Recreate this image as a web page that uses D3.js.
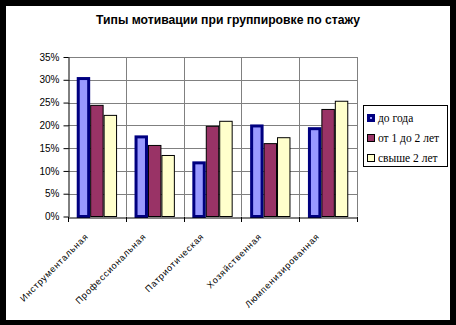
<!DOCTYPE html>
<html><head><meta charset="utf-8">
<script src="https://cdn.jsdelivr.net/npm/d3@7"></script>
<style>
html,body{margin:0;padding:0;background:#000;}
svg{display:block;}
</style></head>
<body>
<script>
const title = "Типы мотивации при группировке по стажу";
const categories = ["Инструментальная","Профессиональная","Патриотическая","Хозяйственная","Люмпенизированная"];
const seriesNames = ["до года","от 1 до 2 лет","свыше 2 лет"];
const seriesUpToYear = [30.6, 17.8, 12.1, 20.2, 19.6];
const series1to2 = [24.5, 15.7, 19.9, 16.1, 23.6];
const seriesOver2 = [22.3, 13.5, 21.0, 17.4, 25.4];
const yTicks = [0,5,10,15,20,25,30,35];

(function(){
const W=456,H=325;
const svg=d3.select("body").append("svg").attr("width",W).attr("height",H);
svg.append("rect").attr("x",0).attr("y",0).attr("width",W).attr("height",H).attr("fill","#000");
svg.append("rect").attr("x",6).attr("y",6).attr("width",444).attr("height",314).attr("fill","#fff");

const pL=68,pR=357,pT=57,pB=216.5;
const x=d3.scaleBand().domain(categories).range([pL,pR]).paddingInner(0).paddingOuter(0);
const y=d3.scaleLinear().domain([0,35]).range([pB,pT]);

svg.append("text").attr("x",228).attr("y",24).attr("text-anchor","middle")
  .attr("font-family","'Liberation Sans', Arial, sans-serif").attr("font-weight","bold").attr("font-size",12.2)
  .text(title);

const g=svg.append("g");
g.selectAll(".hg").data(yTicks.filter(d=>d>0)).enter().append("line")
  .attr("x1",pL).attr("x2",pR).attr("y1",d=>Math.round(y(d))+0.5).attr("y2",d=>Math.round(y(d))+0.5)
  .attr("stroke","#808080").attr("stroke-width",1);
const bounds=categories.map(c=>x(c)).concat([pR]).slice(1);
g.selectAll(".vg").data(bounds).enter().append("line")
  .attr("x1",d=>Math.round(d)+0.5).attr("x2",d=>Math.round(d)+0.5).attr("y1",pT).attr("y2",pB)
  .attr("stroke","#808080").attr("stroke-width",1);

const xs=d3.scaleBand().domain(d3.range(3)).range([0,x.bandwidth()]).paddingOuter(0.65).paddingInner(0);
const data=[seriesUpToYear,series1to2,seriesOver2];
const fills=["#9999FF","#993366","#FFFFCC"];
const strokes=["#000080","#000","#000"];
const sw=[3,1,1];
data.forEach((vals,si)=>{
  svg.append("g").selectAll("rect").data(vals).enter().append("rect")
    .attr("x",(d,i)=>x(categories[i])+xs(si)+sw[si]/2)
    .attr("width",xs.bandwidth()-sw[si])
    .attr("y",d=>y(d)+sw[si]/2)
    .attr("height",d=>pB-y(d)-sw[si]/2)
    .attr("fill",fills[si]).attr("stroke",strokes[si]).attr("stroke-width",sw[si]);
});

const ya=svg.append("g").attr("transform",`translate(${pL+0.5},0)`)
  .call(d3.axisLeft(y).tickValues(yTicks).tickFormat(d=>d+"%").tickSize(5).tickSizeOuter(0));
ya.select(".domain").attr("stroke","#000");
ya.selectAll(".tick line").attr("stroke","#000");
ya.selectAll("text").attr("font-family","'Liberation Sans', Arial, sans-serif").attr("font-size",10).attr("fill","#000").attr("dx",-1);

const xa=svg.append("g").attr("transform",`translate(0,${Math.round(pB)+0.5})`)
  .call(d3.axisBottom(x).tickSize(0).tickSizeOuter(0).tickFormat(""));
xa.select(".domain").attr("stroke","#000");
svg.append("g").selectAll("line").data([pL].concat(bounds)).enter().append("line")
  .attr("x1",d=>Math.round(d)+0.5).attr("x2",d=>Math.round(d)+0.5)
  .attr("y1",Math.round(pB)).attr("y2",Math.round(pB)+5).attr("stroke","#000");

svg.append("g").selectAll("text").data(categories).enter().append("text")
  .attr("transform",d=>`translate(${x(d)+x.bandwidth()/2-8},${pB+20.5}) rotate(-45)`)
  .attr("text-anchor","end").attr("font-family","'Liberation Sans', Arial, sans-serif").attr("font-size",9)
  .attr("letter-spacing",0.8)
  .text(d=>d);

const lg=svg.append("g");
lg.append("rect").attr("x",363.5).attr("y",105.5).attr("width",84).attr("height",61).attr("fill","#fff").attr("stroke","#000");
const ly=[118,138,158];
seriesNames.forEach((n,i)=>{
  lg.append("rect").attr("x",367+sw[i]/2).attr("y",ly[i]-4+sw[i]/2).attr("width",8-sw[i]).attr("height",8-sw[i])
    .attr("fill",fills[i]).attr("stroke",strokes[i]).attr("stroke-width",sw[i]);
  lg.append("text").attr("x",378).attr("y",ly[i]+4).attr("font-family","'Liberation Serif', 'Times New Roman', serif")
    .attr("font-size",11.5).text(n);
});
})();
</script>
</body></html>
